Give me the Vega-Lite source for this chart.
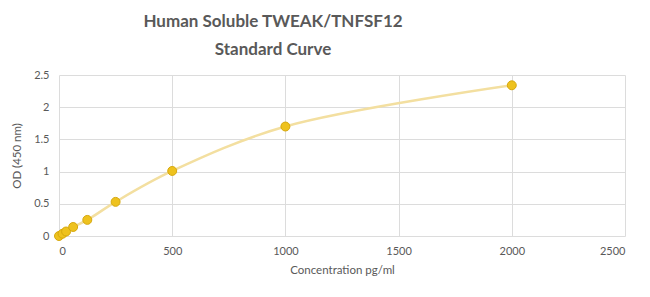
{
  "$schema": "https://vega.github.io/schema/vega-lite/v6.json",
  "autosize": "none",
  "width": 566,
  "height": 161,
  "padding": {"left": 59, "top": 75, "right": 26, "bottom": 61},
  "background": "white",
  "title": {
    "text": ["Human Soluble TWEAK/TNFSF12", "Standard Curve"],
    "font": "Lato",
    "fontSize": 17,
    "fontWeight": "bold",
    "color": "#595959",
    "lineHeight": 28,
    "anchor": "middle",
    "dx": -69,
    "offset": 10
  },
  "config": {
    "view": {"stroke": null},
    "axis": {
      "labelFont": "Lato",
      "titleFont": "Lato",
      "labelColor": "#595959",
      "titleColor": "#595959",
      "labelFontSize": 11,
      "titleFontSize": 11.5,
      "titleFontWeight": "normal",
      "gridColor": "#dcdcdc",
      "gridWidth": 1,
      "domain": false,
      "ticks": false
    }
  },
  "data": {
    "values": [
      {"conc": 0, "od": 0.0},
      {"conc": 15.6, "od": 0.035},
      {"conc": 31.25, "od": 0.07},
      {"conc": 62.5, "od": 0.14},
      {"conc": 125, "od": 0.25},
      {"conc": 250, "od": 0.53},
      {"conc": 500, "od": 1.01},
      {"conc": 1000, "od": 1.7},
      {"conc": 2000, "od": 2.34}
    ]
  },
  "encoding": {
    "x": {
      "field": "conc",
      "type": "quantitative",
      "scale": {"domain": [0, 2500], "nice": false},
      "axis": {"values": [0, 500, 1000, 1500, 2000, 2500], "format": "d", "title": "Concentration pg/ml", "labelPadding": 9, "titlePadding": 8}
    },
    "y": {
      "field": "od",
      "type": "quantitative",
      "scale": {"domain": [0, 2.5], "nice": false},
      "axis": {"values": [0, 0.5, 1, 1.5, 2, 2.5], "format": "~g", "title": "OD (450 nm)", "labelPadding": 10, "titlePadding": 11}
    }
  },
  "layer": [
    {"mark": {"type": "line", "interpolate": "catmull-rom", "color": "#f3dfa0", "strokeWidth": 2.5}},
    {"mark": {"type": "point", "filled": true, "size": 80, "color": "#eec21e", "stroke": "#d6a80e", "strokeWidth": 1, "opacity": 1}}
  ]
}
